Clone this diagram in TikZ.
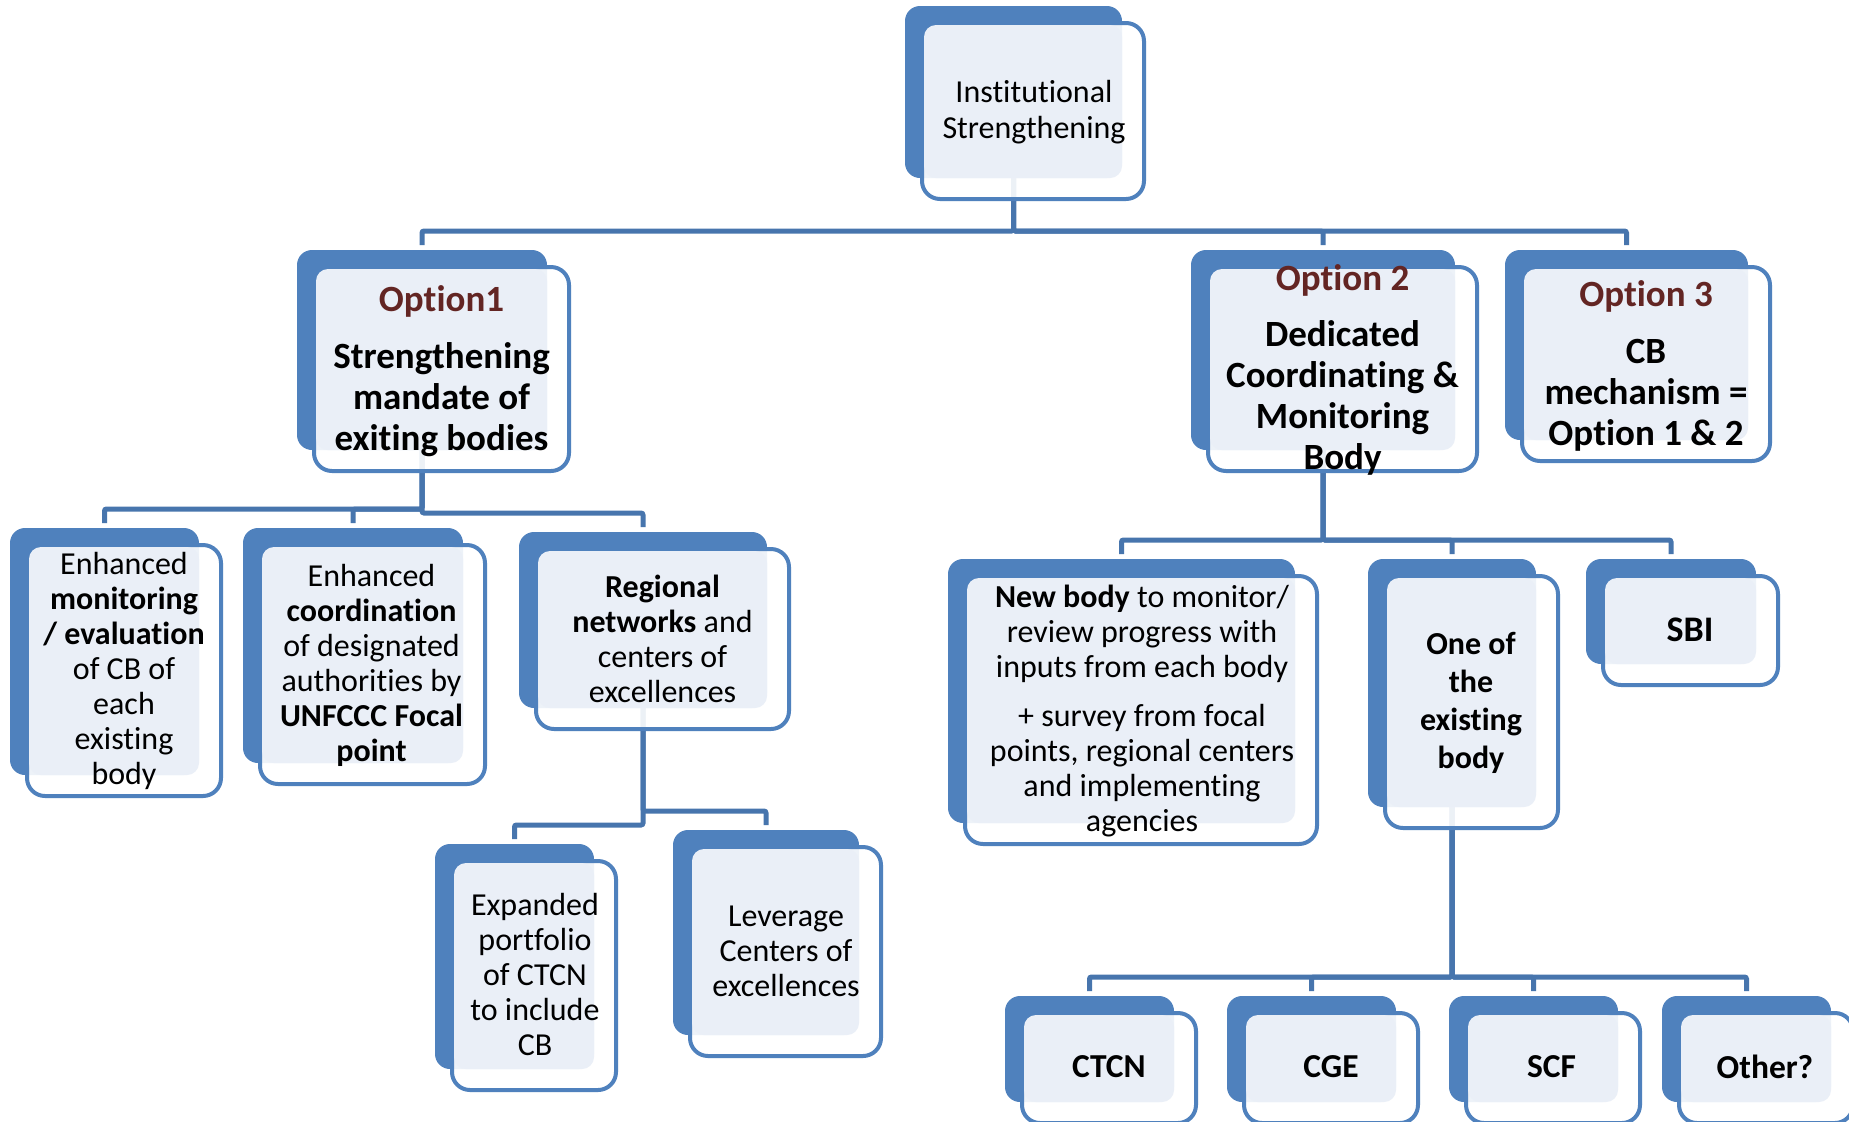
\documentclass[tikz,border=0pt]{standalone}
\usepackage{fontspec}
\setmainfont{Carlito}[Ligatures=NoCommon]
\usetikzlibrary{calc}
\definecolor{accblue}{RGB}{79,129,189}
\definecolor{connblue}{RGB}{71,117,173}
\definecolor{lightfill}{RGB}{234,239,247}
\definecolor{optred}{RGB}{99,37,35}
\pgfdeclarelayer{paper}
\pgfdeclarelayer{bg}
\pgfsetlayers{paper,bg,main}
\tikzset{
 backbox/.style={rectangle, fill=accblue, rounded corners=7.5pt, inner sep=0pt, outer sep=0pt},
 frontbox/.style={rectangle, draw=accblue, line width=2pt, fill=white, fill opacity=0.9, rounded corners=9pt, inner sep=0pt, outer sep=0pt},
 lightbox/.style={rectangle, fill=lightfill, rounded corners=6pt, inner sep=0pt, outer sep=0pt},
 conn/.style={draw=connblue, line width=2.5pt, rounded corners=1pt},
 txt/.style={align=center, inner sep=0pt, text=black},
 reg/.style={txt, font=\fontsize{16}{17.5}\selectfont},
 big/.style={txt, font=\fontsize{18.5}{20.5}\selectfont\bfseries},
 mid/.style={txt, font=\fontsize{16}{19}\selectfont\bfseries},
 sbifont/.style={txt, font=\fontsize{18}{20}\selectfont\bfseries},
 leaf/.style={txt, font=\fontsize{16.75}{19}\selectfont\bfseries}
}
\newcommand\smartbox[5]{%
 \node[backbox, minimum width={(#4-#2)*0.5pt}, minimum height={(#5-#3)*0.5pt}] (#1) at ({(#2+#4)/2},{(#3+#5)/2}) {};
 \node[frontbox, minimum width={(#4-#2+5)*0.5pt}, minimum height={(#5-#3+4)*0.5pt}] (#1-f) at ({(#2+#4)/2+19.5},{(#3+#5)/2+19}) {};
 \node[lightbox, minimum width={(#4-#2-19)*0.5pt}, minimum height={(#5-#3-19)*0.5pt}] (#1-l) at ({(#2+#4+19)/2},{(#3+#5+19)/2}) {};
}
\begin{document}
\begin{tikzpicture}[x=0.5pt,y=-0.5pt]
\useasboundingbox (0,0) rectangle (1849,1121);
\begin{pgfonlayer}{paper}
\fill[white] (0,0) rectangle (1849,1121);
\end{pgfonlayer}

\smartbox{top}{905}{6}{1122}{178}
\smartbox{opt1}{297}{250}{547}{450}
\smartbox{opt2}{1191}{250}{1455}{450}
\smartbox{opt3}{1505}{250}{1748}{440}
\smartbox{enhmon}{10}{528}{199}{775}
\smartbox{enhcoord}{243}{528}{463}{763}
\smartbox{regional}{519}{532}{767}{708}
\smartbox{expanded}{435}{844}{594}{1069}
\smartbox{leverage}{673}{830}{859}{1035}
\smartbox{newbody}{948}{559}{1295}{823}
\smartbox{oneof}{1368}{559}{1536}{807}
\smartbox{sbi}{1586}{559}{1756}{664}
\smartbox{ctcn}{1005}{996}{1174}{1102}
\smartbox{cge}{1227}{996}{1396}{1102}
\smartbox{scf}{1449}{996}{1618}{1102}
\smartbox{other}{1662}{996}{1831}{1102}

\node[reg, font=\fontsize{16}{18}\selectfont] (top-t) at (1034,112.5) {Institutional\\Strengthening};
\node[big] (opt1-t) at (441.5,371) {{\color{optred}Option1}\\[7.75pt]Strengthening\\mandate of\\exiting bodies};
\node[big] (opt2-t) at (1342.5,370) {{\color{optred}Option 2}\\[7.75pt]Dedicated\\Coordinating \&\\Monitoring\\Body};
\node[big] (opt3-t) at (1646,366) {{\color{optred}Option 3}\\[7.75pt]CB\\mechanism =\\Option 1 \& 2};
\node[reg] (enhmon-t) at (124,670.5) {Enhanced\\\textbf{monitoring}\\\textbf{/ evaluation}\\of CB of\\each\\existing\\body};
\node[reg] (enhcoord-t) at (371.5,665) {Enhanced\\\textbf{coordination}\\of designated\\authorities by\\\textbf{UNFCCC Focal}\\\textbf{point}};
\node[reg] (regional-t) at (662.5,638.5) {\textbf{Regional}\\\textbf{networks} and\\centers of\\excellences};
\node[reg] (expanded-t) at (535,974) {Expanded\\portfolio\\of CTCN\\to include\\CB};
\node[reg] (leverage-t) at (786,951.5) {Leverage\\Centers of\\excellences};
\node[reg] (newbody-t) at (1142,711) {\textbf{New body} to monitor/\\review progress with\\inputs from each body\\[7pt]+ survey from focal\\points, regional centers\\and implementing\\agencies};
\node[mid] (oneof-t) at (1471,703) {One of\\the\\existing\\body};
\node[sbifont] (sbi-t) at (1690,630) {SBI};
\node[leaf] (ctcn-t) at (1109,1067) {CTCN};
\node[leaf] (cge-t) at (1331,1067) {CGE};
\node[leaf] (scf-t) at (1551.5,1067) {SCF};
\node[leaf] (other-t) at (1765,1067) {Other?};

\begin{pgfonlayer}{bg}
\foreach \p/\c in {top/opt1, top/opt2, top/opt3, opt1/enhmon, opt1/enhcoord, opt1/regional, regional/expanded, regional/leverage, opt2/newbody, opt2/oneof, opt2/sbi, oneof/ctcn, oneof/cge, oneof/scf, oneof/other}
  \draw[conn] (\p.south) |- ($(\c.north)+(0,-19)$) -- ($(\c.north)+(0,-5)$);
\end{pgfonlayer}
\end{tikzpicture}
\end{document}
